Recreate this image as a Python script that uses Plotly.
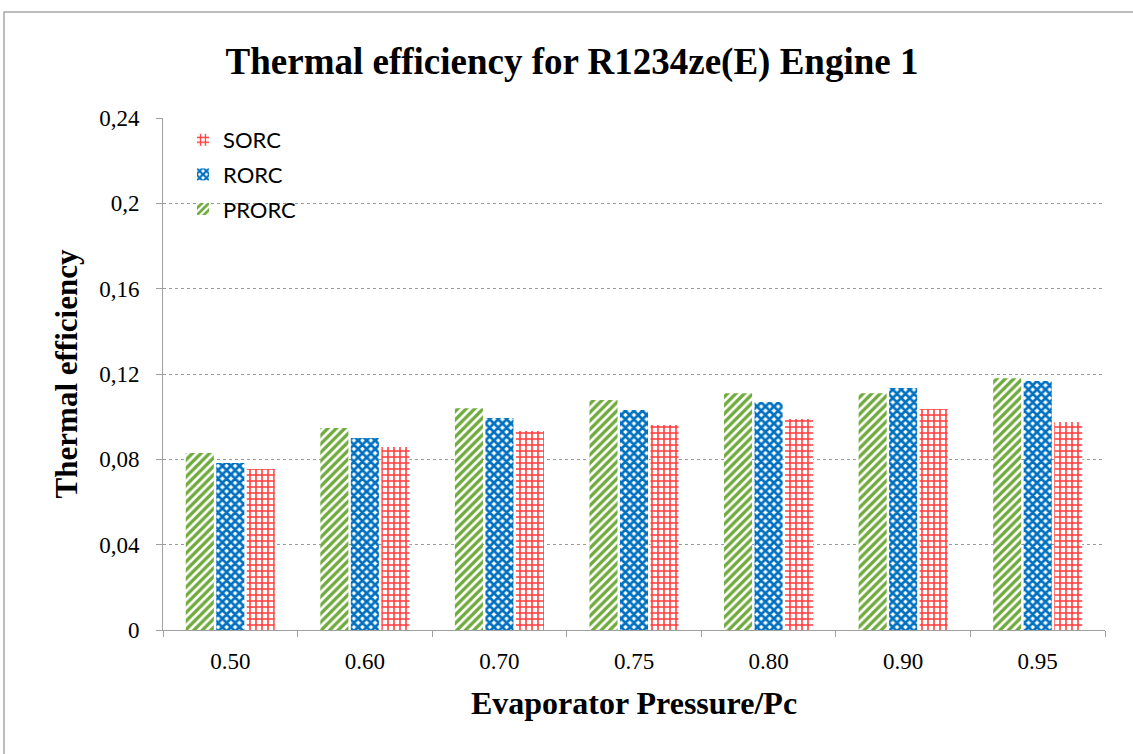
import plotly.graph_objects as go

categories = ["0.50", "0.60", "0.70", "0.75", "0.80", "0.90", "0.95"]
prorc = [0.083, 0.0947, 0.104, 0.1078, 0.111, 0.111, 0.118]
rorc = [0.0783, 0.090, 0.0994, 0.1031, 0.1069, 0.1134, 0.1167]
sorc = [0.0755, 0.0858, 0.0933, 0.0961, 0.0989, 0.1036, 0.0975]
ytick_vals = [0, 0.04, 0.08, 0.12, 0.16, 0.2, 0.24]
ytick_text = ["0", "0,04", "0,08", "0,12", "0,16", "0,2", "0,24"]

W, H = 1133, 754
L, R, T, B = 163, 28, 118, 124

fig = go.Figure()
fig.add_trace(go.Bar(
    name="PRORC", x=categories, y=prorc, legendrank=3, legendgroup="g3",
    marker=dict(color="white", line=dict(width=0),
                pattern=dict(shape="/", fgcolor="#6FAA3C", bgcolor="white", size=6,
                             solidity=0.55, fgopacity=1)),
))
fig.add_trace(go.Bar(
    name="RORC", x=categories, y=rorc, legendrank=2, legendgroup="g2",
    marker=dict(color="white", line=dict(width=0),
                pattern=dict(shape="x", fgcolor="#0070C0", bgcolor="white", size=6,
                             solidity=0.7, fgopacity=1)),
))
fig.add_trace(go.Bar(
    name="SORC", x=categories, y=sorc, legendrank=1, legendgroup="g1",
    marker=dict(color="white", line=dict(width=0),
                pattern=dict(shape="+", fgcolor="#FF3A3A", bgcolor="white", size=6,
                             solidity=0.45, fgopacity=1)),
))

pw = W - L - R
ph = H - T - B
def px(x):
    return (x - L) / pw
def py(y):
    return (H - B - y) / ph

fig.update_layout(
    width=W, height=H,
    margin=dict(l=L, r=R, t=T, b=B, autoexpand=False),
    paper_bgcolor="white", plot_bgcolor="white",
    barmode="group", bargap=0.32, bargroupgap=0.08,
    title=dict(text="<b>Thermal efficiency for R1234ze(E) Engine 1</b>",
               x=572 / W, xanchor="center", y=1 - 61 / H, yanchor="middle",
               font=dict(family="Liberation Serif", size=37, color="black")),
    font=dict(family="Liberation Serif", color="black"),
    legend=dict(x=px(183), y=py(119), xanchor="left", yanchor="top",
                traceorder="grouped", tracegroupgap=3, itemwidth=30,
                bgcolor="rgba(0,0,0,0)",
                font=dict(family="Lato", size=22, color="black")),
    xaxis=dict(
        type="category", showline=True, linecolor="#A0A0A0", linewidth=1,
        ticks="outside", tickson="boundaries", ticklen=6, tickcolor="#A0A0A0",
        ticklabelstandoff=10,
        tickfont=dict(family="Liberation Serif", size=23, color="black"),
        title=dict(text="<b>Evaporator Pressure/Pc</b>", standoff=19,
                   font=dict(family="Liberation Serif", size=32, color="black")),
        showgrid=False,
    ),
    yaxis=dict(
        range=[0, 0.24], tickvals=ytick_vals, ticktext=ytick_text,
        showline=True, linecolor="#A0A0A0", linewidth=1,
        ticks="outside", ticklen=6, tickcolor="#A0A0A0",
        ticklabelstandoff=12,
        tickfont=dict(family="Liberation Serif", size=23, color="black"),
        showgrid=True, gridcolor="#9A9A9A", griddash="dot", gridwidth=1,
        zeroline=False,
        title=dict(text="<b>Thermal efficiency</b>", standoff=12,
                   font=dict(family="Liberation Serif", size=31, color="black")),
    ),
    shapes=[dict(type="rect", xref="paper", yref="paper",
                 x0=px(4), x1=px(1145), y0=py(770), y1=py(12),
                 line=dict(color="#A6A6A6", width=1.5), fillcolor="rgba(0,0,0,0)", layer="below")],
)

fig.write_html("out.html")
